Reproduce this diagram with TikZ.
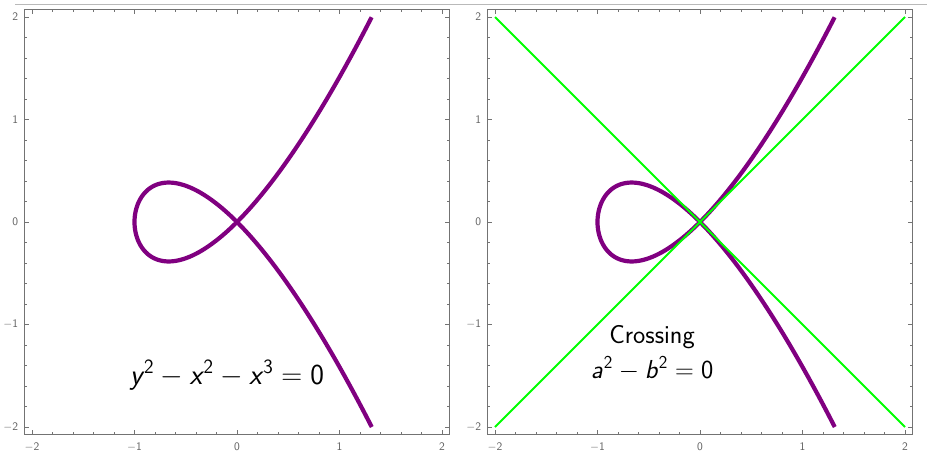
\RequirePackage{fix-cm}
\documentclass[tikz,border=0pt]{standalone}
\usepackage{amsmath}
\DeclareMathAlphabet{\mathsfit}{TU}{lmss}{m}{sl}

\begin{document}
\begin{tikzpicture}[x=1pt, y=-1pt,
  ticklabel/.style={text=ticklabelgray, inner sep=0pt, font=\fontsize{11.5}{13}\selectfont},
  eqtext/.style={inner sep=0pt, anchor=base, font=\fontsize{29}{34}\selectfont\sffamily},
  crosstext/.style={inner sep=0pt, anchor=base, font=\fontsize{26}{31}\selectfont\sffamily}]
\definecolor{curvepurple}{RGB}{128,0,128}
\definecolor{tangentgreen}{RGB}{0,255,0}
\definecolor{framegray}{RGB}{115,115,115}
\definecolor{ticklabelgray}{RGB}{95,95,95}
\useasboundingbox (0,0) rectangle (927,453);

% Trennlinie oben
\draw[gray!55, line width=1.2pt] (15,4.5) -- (927,4.5);

% ======================= PANEL 1 (links): KURVE =======================
\begin{scope}[shift={(237,222)}, x=102.5pt, y=102.5pt]
  \draw[framegray, line width=0.8pt] (-2.075,-2.075) rectangle (2.075,2.075);

  % Teilstriche: klein und gross
  \foreach \t in {-2,-1.8,...,2.01} {
    \draw[framegray, line width=0.5pt] (\t,-2.075) -- ++(0pt,2.7pt);
    \draw[framegray, line width=0.5pt] (\t,2.075) -- ++(0pt,-2.7pt);
    \draw[framegray, line width=0.5pt] (-2.075,\t) -- ++(2.7pt,0pt);
    \draw[framegray, line width=0.5pt] (2.075,\t) -- ++(-2.7pt,0pt);
  }
  \foreach \t in {-2,...,2} {
    \draw[framegray, line width=0.6pt] (\t,-2.075) -- ++(0pt,4.5pt);
    \draw[framegray, line width=0.6pt] (\t,2.075) -- ++(0pt,-4.5pt);
    \draw[framegray, line width=0.6pt] (-2.075,\t) -- ++(4.5pt,0pt);
    \draw[framegray, line width=0.6pt] (2.075,\t) -- ++(-4.5pt,0pt);
  }

  % Beschriftung der Achsen
  \foreach \t [count=\i] in {-2,...,2} {
    \node[ticklabel, anchor=north] (lxlab\i) at ([yshift=-8pt]\t,-2.075) {$\mathsf{\t}$};
    \node[ticklabel, anchor=east] (lylab\i) at ([xshift=-6pt]-2.075,\t) {$\mathsf{\t}$};
  }

  % Kurve y^2 = x^2 + x^3
  \draw[curvepurple, line width=4.2pt]
    plot[domain=-1.5214:1.5214, samples=160, smooth, variable=\s] ({\s*\s-1},{\s*\s*\s-\s});
\end{scope}

\node[eqtext] (curveeq) at (227,384)
  {$\mathsfit{y}\mkern1mu^{\mathsf{2}}-\mathsfit{x}\mkern1mu^{\mathsf{2}}-\mathsfit{x}\mkern1mu^{\mathsf{3}}=\mathsf{0}$};

% ======================= PANEL 2 (rechts): KURVE + TANGENTEN =======================
\begin{scope}[shift={(700,222)}, x=102.5pt, y=102.5pt]
  \draw[framegray, line width=0.8pt] (-2.075,-2.075) rectangle (2.075,2.075);

  % Teilstriche: klein und gross
  \foreach \t in {-2,-1.8,...,2.01} {
    \draw[framegray, line width=0.5pt] (\t,-2.075) -- ++(0pt,2.7pt);
    \draw[framegray, line width=0.5pt] (\t,2.075) -- ++(0pt,-2.7pt);
    \draw[framegray, line width=0.5pt] (-2.075,\t) -- ++(2.7pt,0pt);
    \draw[framegray, line width=0.5pt] (2.075,\t) -- ++(-2.7pt,0pt);
  }
  \foreach \t in {-2,...,2} {
    \draw[framegray, line width=0.6pt] (\t,-2.075) -- ++(0pt,4.5pt);
    \draw[framegray, line width=0.6pt] (\t,2.075) -- ++(0pt,-4.5pt);
    \draw[framegray, line width=0.6pt] (-2.075,\t) -- ++(4.5pt,0pt);
    \draw[framegray, line width=0.6pt] (2.075,\t) -- ++(-4.5pt,0pt);
  }

  % Beschriftung der Achsen
  \foreach \t [count=\i] in {-2,...,2} {
    \node[ticklabel, anchor=north] (rxlab\i) at ([yshift=-8pt]\t,-2.075) {$\mathsf{\t}$};
    \node[ticklabel, anchor=east] (rylab\i) at ([xshift=-6pt]-2.075,\t) {$\mathsf{\t}$};
  }

  % Kurve
  \draw[curvepurple, line width=4.2pt]
    plot[domain=-1.5214:1.5214, samples=160, smooth, variable=\s] ({\s*\s-1},{\s*\s*\s-\s});

  % Tangenten im Doppelpunkt: a^2 - b^2 = 0
  \draw[tangentgreen, line width=2pt] (-2,-2) -- (2,2);
  \draw[tangentgreen, line width=2pt] (-2,2) -- (2,-2);
\end{scope}

\node[crosstext] (crosslabel) at (652,343) {Crossing};
\node[crosstext] (crosseq) at (652,378)
  {$\mathsfit{a}\mkern1mu^{\mathsf{2}}-\mathsfit{b}\mkern1mu^{\mathsf{2}}=\mathsf{0}$};

\end{tikzpicture}
\end{document}
